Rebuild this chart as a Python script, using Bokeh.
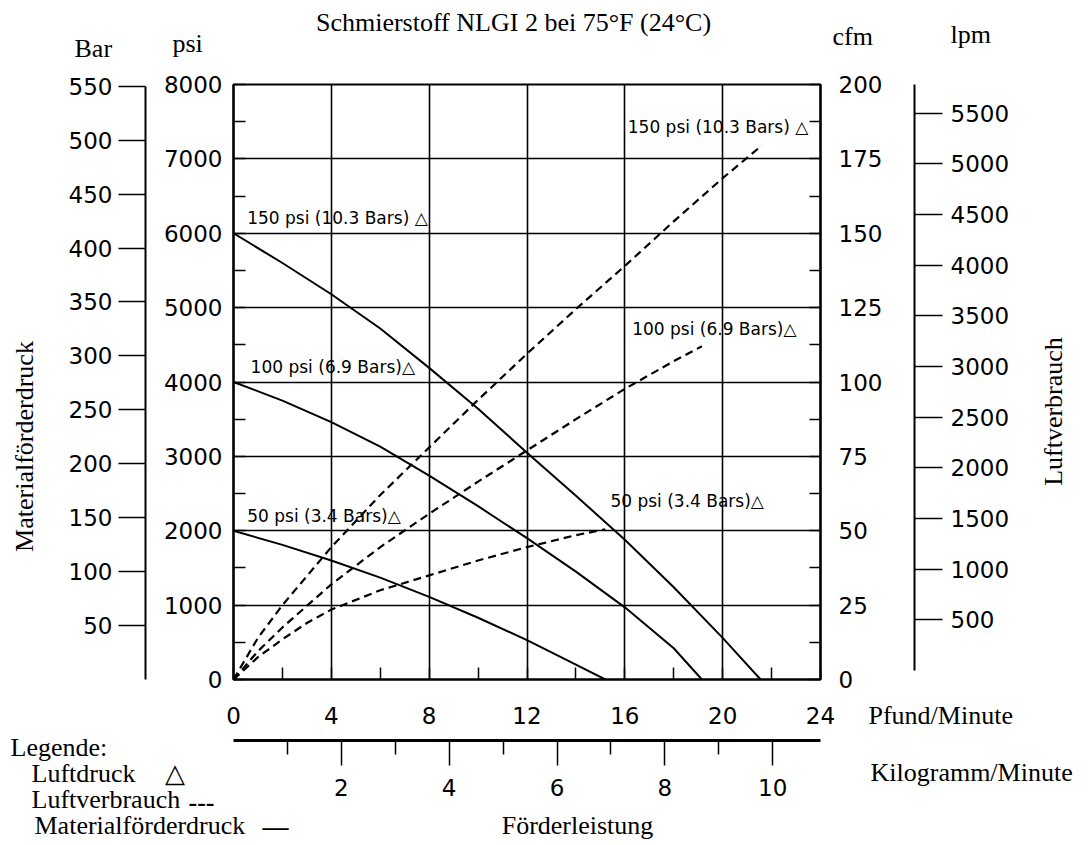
import numpy as np
from bokeh.plotting import figure
from bokeh.models import Range1d, LinearAxis, SingleIntervalTicker, FixedTicker, Label, ColumnDataSource
from bokeh.core.properties import value
from bokeh.embed import file_html
from bokeh.resources import INLINE

# ---------------- data ----------------
# Materialförderdruck (psi) vs Förderleistung (lb/min), solid lines
flow_150_mat = [0, 2, 4, 6, 8, 10, 12, 14, 16, 18, 20, 21.55]
psi_150_mat = [6000, 5600, 5180, 4720, 4190, 3640, 3050, 2470, 1880, 1240, 560, 0]
flow_100_mat = [0, 2, 4, 6, 8, 10, 12, 14, 16, 18, 19.15]
psi_100_mat = [4000, 3750, 3460, 3130, 2740, 2330, 1900, 1450, 970, 420, 0]
flow_50_mat = [0, 2, 4, 6, 8, 10, 12, 14, 15.2]
psi_50_mat = [2000, 1810, 1600, 1370, 1110, 830, 530, 200, 0]

# Luftverbrauch (cfm) vs Förderleistung (lb/min), dashed lines
flow_150_air = [0, 1, 2, 4, 6, 8, 10, 12, 14, 16, 18, 20, 21.6]
cfm_150_air = [0, 14, 25, 44.5, 62, 78, 94, 109.5, 124.5, 139, 154, 168.5, 179.5]
flow_100_air = [0, 1, 2, 4, 6, 8, 10, 12, 14, 16, 18, 19.15]
cfm_100_air = [0, 9.5, 17.5, 32, 44.5, 55.7, 66.5, 77, 87.5, 97.7, 107, 112]
flow_50_air = [0, 1, 2, 3, 4, 6, 8, 10, 12, 14, 15.2]
cfm_50_air = [0, 7.5, 13.5, 19, 23.5, 30, 35, 40, 44.5, 48.5, 50.5]

# axis ticks
kg_major = [2, 4, 6, 8, 10]
kg_minor = [1, 3, 5, 7, 9]
bar_ticks = [50, 100, 150, 200, 250, 300, 350, 400, 450, 500, 550]
lpm_ticks = [500, 1000, 1500, 2000, 2500, 3000, 3500, 4000, 4500, 5000, 5500]

air_labels = ["150 psi (10.3 Bars) △", "100 psi (6.9 Bars)△", "50 psi (3.4 Bars)△"]

PSI_PER_BAR = 14.5038
LB_PER_KG = 2.20462

# ---------------- main figure ----------------
W, H = 1084, 843
FL, FR, FT, FB = 233, 820, 84, 679  # frame edges in canvas pixels
p = figure(width=W, height=H, x_range=Range1d(0, 24), y_range=Range1d(0, 8000),
           output_backend="svg", toolbar_location=None, title=None,
           min_border_left=FL, min_border_right=W - FR, min_border_top=FT,
           min_border_bottom=H - FB)
p.background_fill_color = "white"
p.border_fill_color = None
p.outline_line_color = "black"
p.outline_line_width = 2.2

p.extra_y_ranges = {
    "bar": Range1d(0, 8000 / PSI_PER_BAR),
    "cfm": Range1d(0, 200),
    "lpm": Range1d(-89, 5783),
    "pad": Range1d(0, 1),
}
p.extra_x_ranges = {"kg": Range1d(0, 24 / LB_PER_KG), "padx": Range1d(0, 1)}

SANS = "DejaVu Sans"
SERIF = "Liberation Serif"
TICK_FS = "23px"


def style_axis(ax):
    ax.axis_line_color = "black"
    ax.axis_line_width = 2
    ax.major_tick_line_color = "black"
    ax.major_tick_line_width = 1.5
    ax.minor_tick_line_color = "black"
    ax.minor_tick_line_width = 1.5
    ax.major_label_text_font = SANS
    ax.major_label_text_font_size = TICK_FS
    ax.major_label_text_color = "black"


def spacer(size, **kw):
    # an empty axis whose (white, invisible) tick only reserves room between two axes
    return LinearAxis(ticker=FixedTicker(ticks=[1]), axis_line_color=None,
                      major_tick_in=0, major_tick_out=size, minor_tick_out=0, minor_tick_in=0,
                      major_tick_line_color="white", major_label_overrides={1: ""},
                      major_label_standoff=0, **kw)


# psi axis (main, left)
ya = p.yaxis[0]
style_axis(ya)
ya.ticker = SingleIntervalTicker(interval=1000, num_minor_ticks=2)
ya.major_tick_in = 0
ya.major_tick_out = 0
ya.minor_tick_in = 12
ya.minor_tick_out = 0
ya.major_label_standoff = 11

p.add_layout(spacer(15, y_range_name="pad"), "left")

bar_ax = LinearAxis(y_range_name="bar", ticker=FixedTicker(ticks=bar_ticks), bounds=(0, 550))
style_axis(bar_ax)
bar_ax.major_tick_in = 0
bar_ax.major_tick_out = 27
bar_ax.minor_tick_line_color = None
bar_ax.major_label_standoff = 6
p.add_layout(bar_ax, "left")

# cfm axis (right)
cfm_ax = LinearAxis(y_range_name="cfm", ticker=SingleIntervalTicker(interval=25, num_minor_ticks=2))
style_axis(cfm_ax)
cfm_ax.major_tick_in = 0
cfm_ax.major_tick_out = 0
cfm_ax.minor_tick_in = 11
cfm_ax.minor_tick_out = 0
cfm_ax.major_label_standoff = 18
p.add_layout(cfm_ax, "right")

p.add_layout(spacer(29, y_range_name="pad"), "right")

lpm_ax = LinearAxis(y_range_name="lpm", ticker=FixedTicker(ticks=lpm_ticks), bounds=(0, 5783))
style_axis(lpm_ax)
lpm_ax.major_tick_in = 0
lpm_ax.major_tick_out = 28
lpm_ax.minor_tick_line_color = None
lpm_ax.major_label_standoff = 8
p.add_layout(lpm_ax, "right")

# lb/min axis (main, below)
xa = p.xaxis[0]
style_axis(xa)
xa.ticker = SingleIntervalTicker(interval=4, num_minor_ticks=2)
xa.major_tick_in = 0
xa.major_tick_out = 0
xa.minor_tick_in = 12
xa.minor_tick_out = 0
xa.major_label_standoff = 27

p.add_layout(spacer(14, x_range_name="padx"), "below")

kg_ax = LinearAxis(x_range_name="kg", ticker=FixedTicker(ticks=kg_major, minor_ticks=kg_minor))
style_axis(kg_ax)
kg_ax.axis_line_width = 3
kg_ax.major_tick_in = 0
kg_ax.major_tick_out = 25
kg_ax.minor_tick_in = 0
kg_ax.minor_tick_out = 14
kg_ax.major_label_standoff = 13
p.add_layout(kg_ax, "below")

# grid
for g in (p.xgrid[0], p.ygrid[0]):
    g.grid_line_color = "black"
    g.grid_line_width = 1.6

# ---------------- curves ----------------
p.line(flow_150_mat, psi_150_mat, line_color="black", line_width=2)
p.line(flow_100_mat, psi_100_mat, line_color="black", line_width=2)
p.line(flow_50_mat, psi_50_mat, line_color="black", line_width=2)
p.line(flow_150_air, cfm_150_air, y_range_name="cfm", line_color="black", line_width=2.2, line_dash="8 5")
p.line(flow_100_air, cfm_100_air, y_range_name="cfm", line_color="black", line_width=2.2, line_dash="8 5")
p.line(flow_50_air, cfm_50_air, y_range_name="cfm", line_color="black", line_width=2.2, line_dash="8 5")

# ---------------- curve annotations ----------------
ANN_FS = "17px"
for txt, x, y in zip(air_labels, [0.56, 0.70, 0.56], [6210, 4200, 2205]):
    p.add_layout(Label(x=x, y=y, text=txt, text_font=SANS, text_font_size=ANN_FS,
                       text_baseline="middle", text_align="left", text_color="black"))
for txt, x, y in zip(air_labels, [16.12, 16.3, 15.41], [185.6, 117.8, 60.1]):
    p.add_layout(Label(x=x, y=y, y_range_name="cfm", text=txt, text_font=SANS,
                       text_font_size=ANN_FS, text_baseline="middle", text_align="left",
                       text_color="black"))

# ---------------- text layer (transparent, laid over the main figure) ----------------
t = figure(width=W, height=H, x_range=Range1d(0, W), y_range=Range1d(0, H),
           output_backend="svg", toolbar_location=None, title=None,
           x_axis_location=None, y_axis_location=None,
           min_border=0, min_border_left=0, min_border_right=0, min_border_top=0,
           min_border_bottom=0,
           styles={"position": "absolute", "top": "0px", "left": "0px", "z-index": "2"})
t.background_fill_color = None
t.border_fill_color = None
t.outline_line_color = None
t.grid.visible = False

SERIF_FS = "26px"


def serif(texts, xs, ys, align="left", angle=0.0, style="normal"):
    # ys: visual vertical centre of the text, in canvas pixels from the top
    src = ColumnDataSource(dict(x=xs, y=[H - v for v in ys], text=texts))
    t.text(x="x", y="y", text="text", source=src, text_font=value(SERIF),
           text_font_size=value(SERIF_FS), text_align=align, text_baseline="middle",
           angle=angle, text_color="black", text_font_style=style)


serif(["Schmierstoff NLGI 2 bei 75°F (24°C)", "Förderleistung"], [513, 577], [22, 825],
      align="center")
serif(["Bar", "psi", "cfm", "lpm", "Pfund/Minute", "Kilogramm/Minute",
       "Legende:", "Luftdruck", "△", "Luftverbrauch", "Materialförderdruck"],
      [74, 172, 832, 950, 868, 870, 10, 31, 164, 31, 34],
      [48, 43, 36, 34, 715, 772, 747, 773, 773, 799, 825])
serif(["---", "—"], [188, 262], [802, 826], style="bold")
serif(["Materialförderdruck", "Luftverbrauch"], [24, 1053], [446, 411],
      align="center", angle=np.pi / 2)

open("out.html", "w").write(file_html([p, t], INLINE))
